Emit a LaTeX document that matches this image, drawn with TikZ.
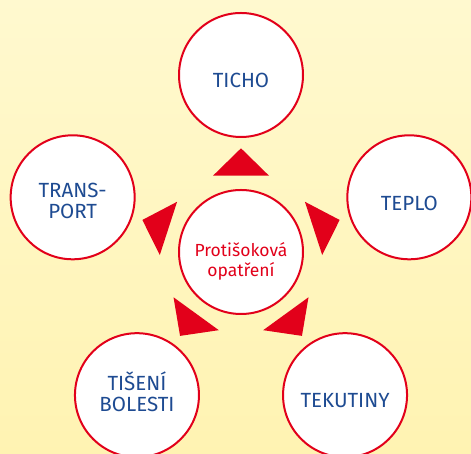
\documentclass[tikz,border=0pt]{standalone}
\usepackage{fontspec}
\setmainfont{Fira Sans}
\usetikzlibrary{calc}
\definecolor{bgtop}{HTML}{FFF9CF}
\definecolor{bgbot}{HTML}{FFF3B2}
\definecolor{cred}{HTML}{E2001A}
\definecolor{cblue}{HTML}{1E4B92}
\newcommand{\lowtext}[2]{\raisebox{#1}[0pt][0pt]{\begin{tabular}[c]{@{}c@{}}#2\end{tabular}}}
\tikzset{
  bubble/.style={circle, draw=cred, line width=2pt, fill=white, minimum size=124pt, inner sep=0pt, align=center, text=cblue, font=\fontsize{20.5}{21}\selectfont},
  hub/.style={bubble, text=cred, font=\fontsize{17.5}{20}\selectfont},
  pointer/.style={fill=cred, draw=none}
}
\begin{document}
\begin{tikzpicture}[x=1pt,y=1pt]
\shade[top color=bgtop, bottom color=bgbot] (0,0) rectangle (471,454);
\useasboundingbox (0,0) rectangle (471,454);
\coordinate (c) at (241,202);
\node[hub] (hub) at (c) {\lowtext{-15pt}{Protišoková\\opatření}};
\node[bubble] (ticho) at ($(c)+(90:177)$) {\raisebox{-13pt}[0pt][0pt]{TICHO}};
\node[bubble] (teplo) at ($(c)+(18:177)$) {\raisebox{-13pt}[0pt][0pt]{TEPLO}};
\node[bubble] (tekutiny) at ($(c)+(-54:177)$) {\raisebox{-12.5pt}[0pt][0pt]{TEKUTINY}};
\node[bubble] (tiseni) at ($(c)+(-126:177)$) {\lowtext{-5pt}{TIŠENÍ\\BOLESTI}};
\node[bubble] (transport) at ($(c)+(162:177)$) {\lowtext{-11.5pt}{TRANS-\\PORT}};
\foreach \a in {0,-72,-144,72,144}{
  \fill[pointer, shift={(c)}, rotate=\a] (0,103.7) -- (28,76.3) -- (-28,76.3) -- cycle;
}
\end{tikzpicture}
\end{document}
